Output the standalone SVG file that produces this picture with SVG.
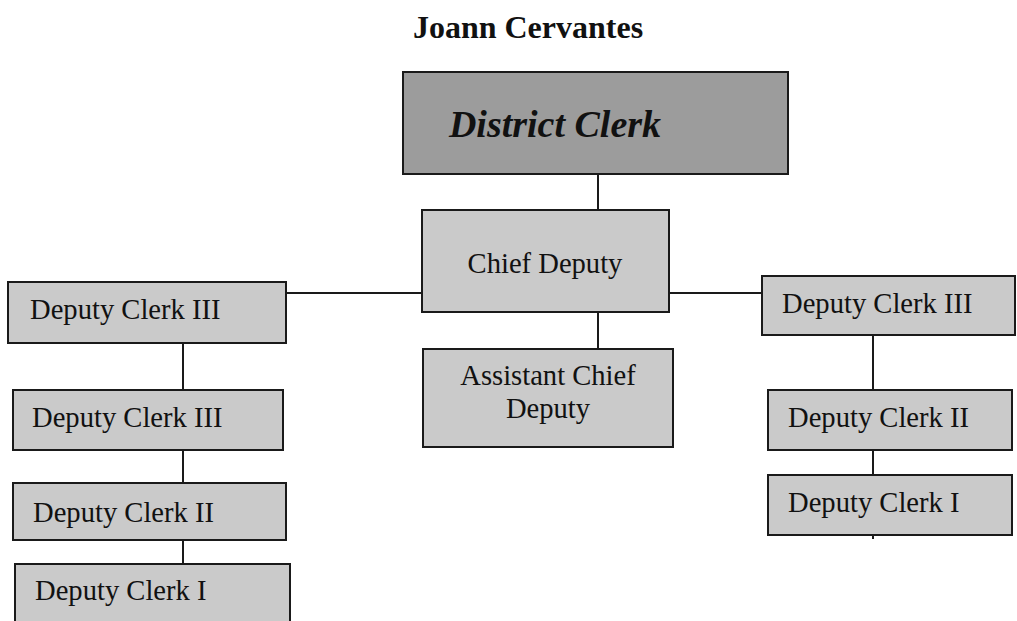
<svg xmlns="http://www.w3.org/2000/svg" width="1017" height="621" viewBox="0 0 1017 621">
<style>
.box{fill:#cacaca;stroke:#1a1a1a;stroke-width:2}
.top{fill:#9c9c9c;stroke:#1a1a1a;stroke-width:2}
.t{font-family:"Liberation Serif","Times New Roman",serif;font-size:28.6px;fill:#111}
.c{text-anchor:middle}
line{stroke:#1a1a1a;stroke-width:2}
</style>
<rect width="1017" height="621" fill="#fff"/>
<text x="528" y="38" class="t c" style="font-size:32px;font-weight:bold">Joann Cervantes</text>
<g id="connectors">
<line x1="598" y1="174" x2="598" y2="210"/>
<line x1="598" y1="312" x2="598" y2="349"/>
<line x1="286" y1="293" x2="422" y2="293"/>
<line x1="669" y1="293" x2="762" y2="293"/>
<line x1="183" y1="343" x2="183" y2="390"/>
<line x1="183" y1="450" x2="183" y2="483"/>
<line x1="183" y1="540" x2="183" y2="564"/>
<line x1="873" y1="335" x2="873" y2="390"/>
<line x1="873" y1="450" x2="873" y2="475"/>
<line x1="873" y1="535" x2="873" y2="539"/>
</g>
<g id="district-clerk"><rect class="top" x="403" y="72" width="385" height="102"/><text x="555" y="137" class="t c" style="font-size:38px;font-weight:bold;font-style:italic">District Clerk</text></g>
<g id="chief-deputy"><rect class="box" x="422" y="210" width="247" height="102"/><text x="545" y="273" class="t c">Chief Deputy</text></g>
<g id="assistant-chief-deputy"><rect class="box" x="423" y="349" width="250" height="98"/><text x="548" y="385" class="t c">Assistant Chief</text><text x="548" y="418" class="t c">Deputy</text></g>
<g id="left-1"><rect class="box" x="8" y="282" width="278" height="61"/><text x="30" y="319" class="t">Deputy Clerk III</text></g>
<g id="left-2"><rect class="box" x="13" y="390" width="270" height="60"/><text x="32" y="427" class="t">Deputy Clerk III</text></g>
<g id="left-3"><rect class="box" x="13" y="483" width="273" height="57"/><text x="33" y="522" class="t">Deputy Clerk II</text></g>
<g id="left-4"><rect class="box" x="15" y="564" width="275" height="70"/><text x="35" y="600" class="t">Deputy Clerk I</text></g>
<g id="right-1"><rect class="box" x="762" y="276" width="253" height="59"/><text x="782" y="313" class="t">Deputy Clerk III</text></g>
<g id="right-2"><rect class="box" x="768" y="390" width="244" height="60"/><text x="788" y="427" class="t">Deputy Clerk II</text></g>
<g id="right-3"><rect class="box" x="768" y="475" width="244" height="60"/><text x="788" y="512" class="t">Deputy Clerk I</text></g>
</svg>
